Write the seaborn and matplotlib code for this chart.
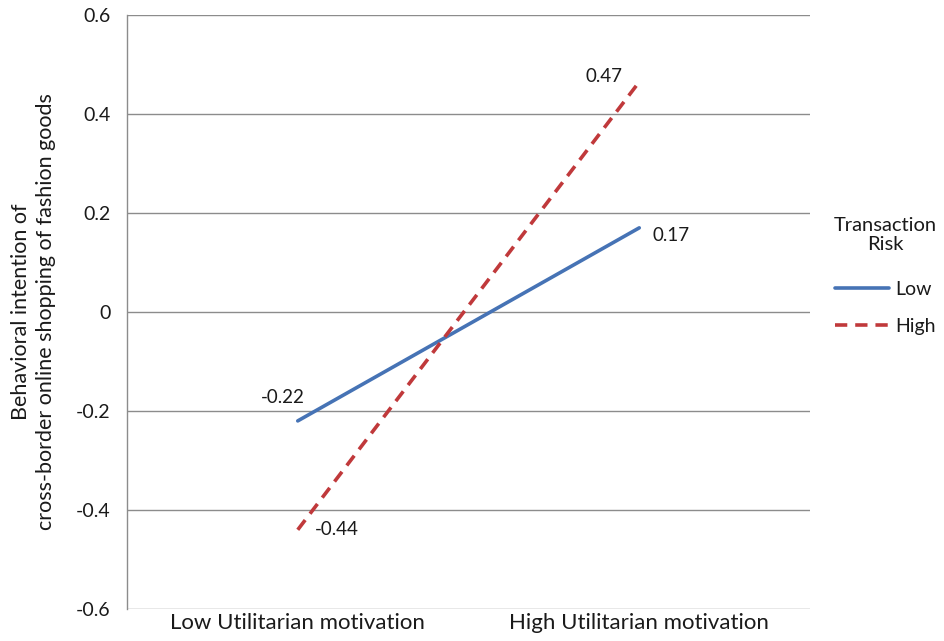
import pandas as pd
import seaborn as sns
import matplotlib.pyplot as plt

# values
conditions = ['Low Utilitarian motivation', 'High Utilitarian motivation']
risk_levels = ['Low', 'High']
low_risk = [-0.22, 0.17]
high_risk = [-0.44, 0.465]
low_labels = ['-0.22', '0.17']
high_labels = ['-0.44', '0.47']

df = pd.DataFrame({
    'motivation': conditions * 2,
    'risk': ['Low'] * 2 + ['High'] * 2,
    'value': low_risk + high_risk,
})

sns.set_theme(style='white')
plt.rcParams['font.family'] = ['Lato', 'DejaVu Sans']

colors = {'Low': '#4673b5', 'High': '#c0393b'}
txt = '#1a1a1a'

fig = plt.figure(figsize=(9.45, 6.41), dpi=100)
ax = fig.add_axes([127 / 945, 1 - 609 / 641, (810 - 127) / 945, (609 - 15) / 641])

sns.lineplot(data=df, x='motivation', y='value', hue='risk', style='risk',
             palette=colors, dashes={'Low': '', 'High': (3.4, 2.2)},
             linewidth=2.6, ax=ax, legend=False, sort=False)

ax.set_xlim(-0.5, 1.5)
ax.set_ylim(-0.6, 0.6)
ax.set_yticks([-0.6, -0.4, -0.2, 0, 0.2, 0.4, 0.6])
ax.set_yticklabels(['-0.6', '-0.4', '-0.2', '0', '0.2', '0.4', '0.6'])
ax.yaxis.grid(True, color='#8c8c8c', linewidth=1.0)
ax.set_axisbelow(True)
for s in ['top', 'right', 'bottom']:
    ax.spines[s].set_visible(False)
ax.spines['left'].set_color('#8c8c8c')
ax.spines['left'].set_linewidth(1.0)
ax.tick_params(axis='y', length=5, color='#8c8c8c', width=1.0, labelsize=14, pad=7, labelcolor=txt)
ax.tick_params(axis='x', length=0, labelsize=16, pad=3, labelcolor=txt)
ax.set_xlabel('')
ax.set_ylabel('Behavioral intention of\ncross-border online shopping of fashion goods',
              fontsize=15.5, color=txt, labelpad=14, linespacing=1.3)

# data labels
fs = 13.5
ax.text(0 + 0.02, low_risk[0] + 0.048, low_labels[0], ha='right', va='center', fontsize=fs, color=txt)
ax.text(1 + 0.04, low_risk[1] - 0.016, low_labels[1], ha='left', va='center', fontsize=fs, color=txt)
ax.text(0 + 0.05, high_risk[0] + 0.0, high_labels[0], ha='left', va='center', fontsize=fs, color=txt)
ax.text(1 - 0.05, high_risk[1] + 0.01, high_labels[1], ha='right', va='center', fontsize=fs, color=txt)

# legend
handles = [plt.Line2D([], [], color=colors['Low'], linewidth=2.6),
           plt.Line2D([], [], color=colors['High'], linewidth=2.6, dashes=(3.4, 2.2))]
leg = fig.legend(handles, risk_levels, title='Transaction\nRisk', frameon=False,
                 loc='upper center', bbox_to_anchor=(885 / 945, 1 - 199 / 641), fontsize=14,
                 title_fontsize=14.5, handlelength=2.8, handletextpad=0.3,
                 labelspacing=1.0)
leg.get_title().set_multialignment('center')
leg.get_title().set_color(txt)
for t in leg.get_texts():
    t.set_color(txt)
leg._legend_box.sep = 20

fig.savefig('out.png', dpi=100)
